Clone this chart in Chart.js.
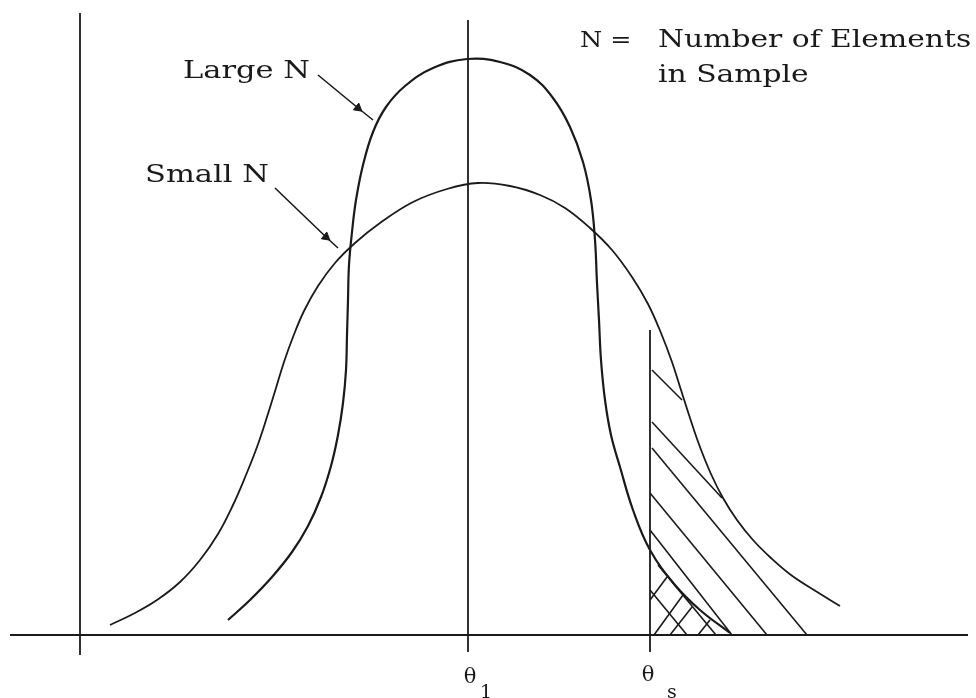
<!DOCTYPE html>
<html>
<head>
<meta charset="utf-8">
<script src="https://cdn.jsdelivr.net/npm/chart.js@4.4.1/dist/chart.umd.min.js"></script>
<style>
    html, body { margin: 0; padding: 0; background: #fff; }
    canvas { display: block; }
</style>
</head>
<body>
<canvas id="chart" width="976" height="698"></canvas>
<script>
// x in theta units (theta_1 = 0), y in density units
const SMALL_N = [
    [-3.58, 0.10], [-3.35, 0.21], [-3.11, 0.35], [-2.88, 0.53], [-2.68, 0.75],
    [-2.50, 1.01], [-2.35, 1.30], [-2.22, 1.60], [-2.11, 1.88], [-2.01, 2.18],
    [-1.92, 2.47], [-1.84, 2.73], [-1.75, 2.98], [-1.64, 3.24], [-1.50, 3.49],
    [-1.33, 3.72], [-1.13, 3.92], [-0.88, 4.12], [-0.55, 4.33], [-0.21, 4.46],
    [0.10, 4.52], [0.42, 4.49], [0.72, 4.40], [0.97, 4.27], [1.22, 4.07],
    [1.44, 3.85], [1.64, 3.58], [1.80, 3.31], [1.93, 3.02], [2.04, 2.73],
    [2.13, 2.45], [2.22, 2.17], [2.32, 1.88], [2.43, 1.61], [2.55, 1.37],
    [2.69, 1.15], [2.85, 0.95], [3.03, 0.77], [3.23, 0.60], [3.46, 0.45],
    [3.72, 0.29],
];

const LARGE_N = [
    [-2.40, 0.15], [-2.18, 0.35], [-1.96, 0.58], [-1.76, 0.83], [-1.60, 1.09],
    [-1.47, 1.38], [-1.37, 1.69], [-1.30, 2.00], [-1.25, 2.32], [-1.22, 2.65],
    [-1.21, 3.00], [-1.20, 3.35], [-1.19, 3.70], [-1.16, 4.03], [-1.12, 4.35],
    [-1.05, 4.70], [-0.95, 5.03], [-0.82, 5.28], [-0.63, 5.49], [-0.35, 5.67],
    [-0.01, 5.76], [0.32, 5.73], [0.62, 5.60], [0.85, 5.37], [1.02, 5.08],
    [1.15, 4.73], [1.23, 4.35], [1.27, 3.95], [1.29, 3.52], [1.31, 3.15],
    [1.33, 2.75], [1.37, 2.35], [1.43, 2.00], [1.52, 1.68], [1.65, 1.25],
    [1.82, 0.85], [2.07, 0.50], [2.32, 0.25], [2.62, 0.02],
];

const THETA_1 = 0;
const THETA_S = 1.82;

// frame lines
const X_AXIS = [[-4.58, 0], [5.0, 0]];
const Y_AXIS = [[-3.88, -0.20], [-3.88, 6.22]];
const THETA_1_LINE = [[THETA_1, -0.17], [THETA_1, 6.15]];
const THETA_S_LINE = [[THETA_S, -0.17], [THETA_S, 3.05]];

// single hatch (tail of small N beyond theta_s)
const HATCH = [
    [[1.84, 2.65], [2.14, 2.35]],
    [[1.84, 2.13], [2.54, 1.37]],
    [[1.84, 1.87], [3.39, 0]],
    [[1.82, 1.42], [2.99, 0]],
    [[1.82, 1.05], [2.64, 0]],
];

// cross hatch (tail of large N beyond theta_s)
const CROSS_HATCH = [
    [[1.82, 0.45], [2.19, 0]],
    [[1.90, 0.70], [2.48, 0]],
    [[1.82, 0.35], [1.99, 0.58]],
    [[1.86, 0], [2.15, 0.40]],
    [[2.02, 0], [2.24, 0.28]],
    [[2.30, 0], [2.42, 0.15]],
];

// pointer arrows: start, dart, tip
const ARROW_LARGE = [[-1.50, 5.60], [-1.10, 5.27], [-0.95, 5.15]];
const ARROW_SMALL = [[-1.93, 4.47], [-1.42, 3.98], [-1.30, 3.87]];

const LABELS = [
    { text: 'Large N', x: -2.85, y: 5.57, size: 25, stretch: 1.22 },
    { text: 'Small N', x: -3.23, y: 4.53, size: 25, stretch: 1.22 },
    { text: 'N =', x: 1.12, y: 5.88, size: 22, stretch: 1.15 },
    { text: 'Number of Elements', x: 1.90, y: 5.88, size: 25, stretch: 1.19 },
    { text: 'in Sample', x: 1.90, y: 5.53, size: 25, stretch: 1.19 },
    { text: '\u03B8', x: 0.02, y: -0.48, size: 21, align: 'center' },
    { text: '1', x: 0.18, y: -0.63, size: 19, align: 'center' },
    { text: '\u03B8', x: 1.80, y: -0.46, size: 21, align: 'center' },
    { text: 's', x: 2.04, y: -0.63, size: 19, align: 'center' },
];

const INK = '#1a1a1a';
const pts = arr => arr.map(([x, y]) => ({ x, y }));

function lineSet(arr, width) {
    return {
        data: pts(arr),
        showLine: true,
        borderColor: INK,
        borderWidth: width,
        pointRadius: 0,
        tension: 0,
    };
}

function curveSet(arr, width) {
    return Object.assign(lineSet(arr, width), { tension: 0.4, borderJoinStyle: 'round' });
}

function arrowSet(arr) {
    return {
        data: pts(arr),
        showLine: true,
        borderColor: INK,
        borderWidth: 1.6,
        pointStyle: 'triangle',
        pointRadius: [0, 5, 0],
        pointRotation: 129,
        pointBackgroundColor: INK,
        pointBorderColor: INK,
        pointBorderWidth: 1,
    };
}

const labelPlugin = {
    id: 'labels',
    afterDraw(chart) {
        const { ctx, scales: { x, y } } = chart;
        LABELS.forEach(l => {
            ctx.save();
            ctx.fillStyle = INK;
            ctx.textBaseline = 'alphabetic';
            ctx.font = `${l.size}px "DejaVu Serif", serif`;
            ctx.textAlign = l.align || 'left';
            ctx.translate(x.getPixelForValue(l.x), y.getPixelForValue(l.y));
            ctx.scale(l.stretch || 1, 1);
            ctx.fillText(l.text, 0, 0);
            ctx.restore();
        });
    }
};

const datasets = [
    lineSet(X_AXIS, 1.8),
    lineSet(Y_AXIS, 1.8),
    lineSet(THETA_1_LINE, 1.8),
    lineSet(THETA_S_LINE, 1.8),
    curveSet(LARGE_N, 2.2),
    curveSet(SMALL_N, 1.8),
    ...HATCH.map(seg => lineSet(seg, 1.6)),
    ...CROSS_HATCH.map(seg => lineSet(seg, 1.6)),
    arrowSet(ARROW_LARGE),
    arrowSet(ARROW_SMALL),
];

new Chart(document.getElementById('chart').getContext('2d'), {
    type: 'scatter',
    data: { datasets },
    options: {
        responsive: false,
        animation: false,
        layout: { padding: 0 },
        scales: {
            x: { type: 'linear', min: -4.68, max: 5.08, display: false },
            y: { type: 'linear', min: -0.63, max: 6.35, display: false },
        },
        plugins: {
            legend: { display: false },
            tooltip: { enabled: false },
        },
    },
    plugins: [labelPlugin],
});
</script>
</body>
</html>
